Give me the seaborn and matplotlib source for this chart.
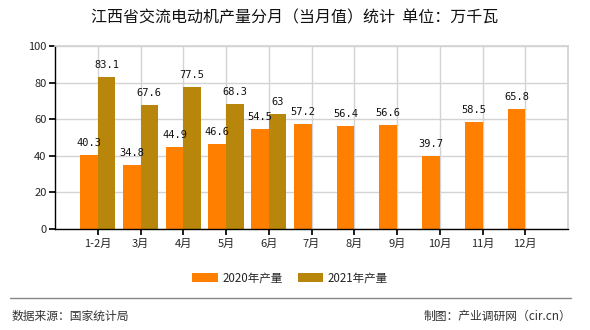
import matplotlib
matplotlib.use("Agg")
import matplotlib.pyplot as plt
import seaborn as sns
import pandas as pd
import numpy as np
from matplotlib.patches import Patch
from matplotlib.lines import Line2D

months = ["1-2月", "3月", "4月", "5月", "6月", "7月", "8月", "9月", "10月", "11月", "12月"]
prod_2020 = [40.3, 34.8, 44.9, 46.6, 54.5, 57.2, 56.4, 56.6, 39.7, 58.5, 65.8]
prod_2021 = [83.1, 67.6, 77.5, 68.3, 63, None, None, None, None, None, None]
series_names = ["2020年产量", "2021年产量"]
colors = ["#FF8000", "#B8860B"]
title = "江西省交流电动机产量分月（当月值）统计  单位：万千瓦"
source = "数据来源：国家统计局"
credit = "制图：产业调研网（cir.cn）"
y_ticks = [0, 20, 40, 60, 80, 100]

sns.set_theme(style="white")
plt.rcParams['font.family'] = ['Noto Sans CJK SC', 'DejaVu Sans']

df = pd.DataFrame({
    "month": months * 2,
    "value": [np.nan if v is None else v for v in prod_2020 + prod_2021],
    "series": [series_names[0]] * len(months) + [series_names[1]] * len(months),
}).dropna()

fig = plt.figure(figsize=(5.9, 3.3), dpi=100)
ax = fig.add_axes([55 / 590, 1 - 229 / 330, 513 / 590, 183 / 330])

sns.barplot(data=df, x="month", y="value", hue="series", order=months,
            hue_order=series_names, palette=colors, width=0.82, saturation=1,
            ax=ax, legend=False, errorbar=None, linewidth=0, edgecolor="none")

for cont in ax.containers:
    ax.bar_label(cont, fmt=lambda v: f"{v:g}", padding=5, fontsize=7.5,
                 family="DejaVu Sans Mono", color="#111111")

ax.set_xlim(-1, len(months))
ax.set_ylim(0, 100)
ax.set_yticks(y_ticks)
ax.set_xlabel("")
ax.set_ylabel("")
ax.set_xticks(range(len(months)))
ax.set_xticklabels(months, fontsize=8)
ax.tick_params(axis="y", labelsize=8, length=4, color="black", direction="out", left=True, pad=2)
ax.tick_params(axis="x", length=4, color="black", direction="out", bottom=True, pad=3)
ax.grid(True, color="#d3d3d3", linewidth=1)
ax.set_axisbelow(True)
for s in ["top", "right"]:
    ax.spines[s].set_color("#d3d3d3")
for s in ["left", "bottom"]:
    ax.spines[s].set_color("black")
    ax.spines[s].set_linewidth(1)

handles = [Patch(facecolor=c, edgecolor="none") for c in colors]
fig.legend(handles, series_names, loc="center", bbox_to_anchor=(290 / 590, 1 - 278 / 330),
           ncol=2, frameon=False, fontsize=8.3, handlelength=2.2, handleheight=0.8,
           columnspacing=1.3, handletextpad=0.4)

fig.text(0.5, 1 - 18 / 330, title, ha="center", va="center", fontsize=11.5, color="#111111")
fig.add_artist(Line2D([10 / 590, 571 / 590], [1 - 298 / 330] * 2, color="#888888", linewidth=1))
fig.text(12 / 590, 1 - 316 / 330, source, ha="left", va="center", fontsize=8.5, color="#333333")
fig.text(571 / 590, 1 - 316 / 330, credit, ha="right", va="center", fontsize=8.5, color="#333333")

fig.savefig("out.png", dpi=100)
